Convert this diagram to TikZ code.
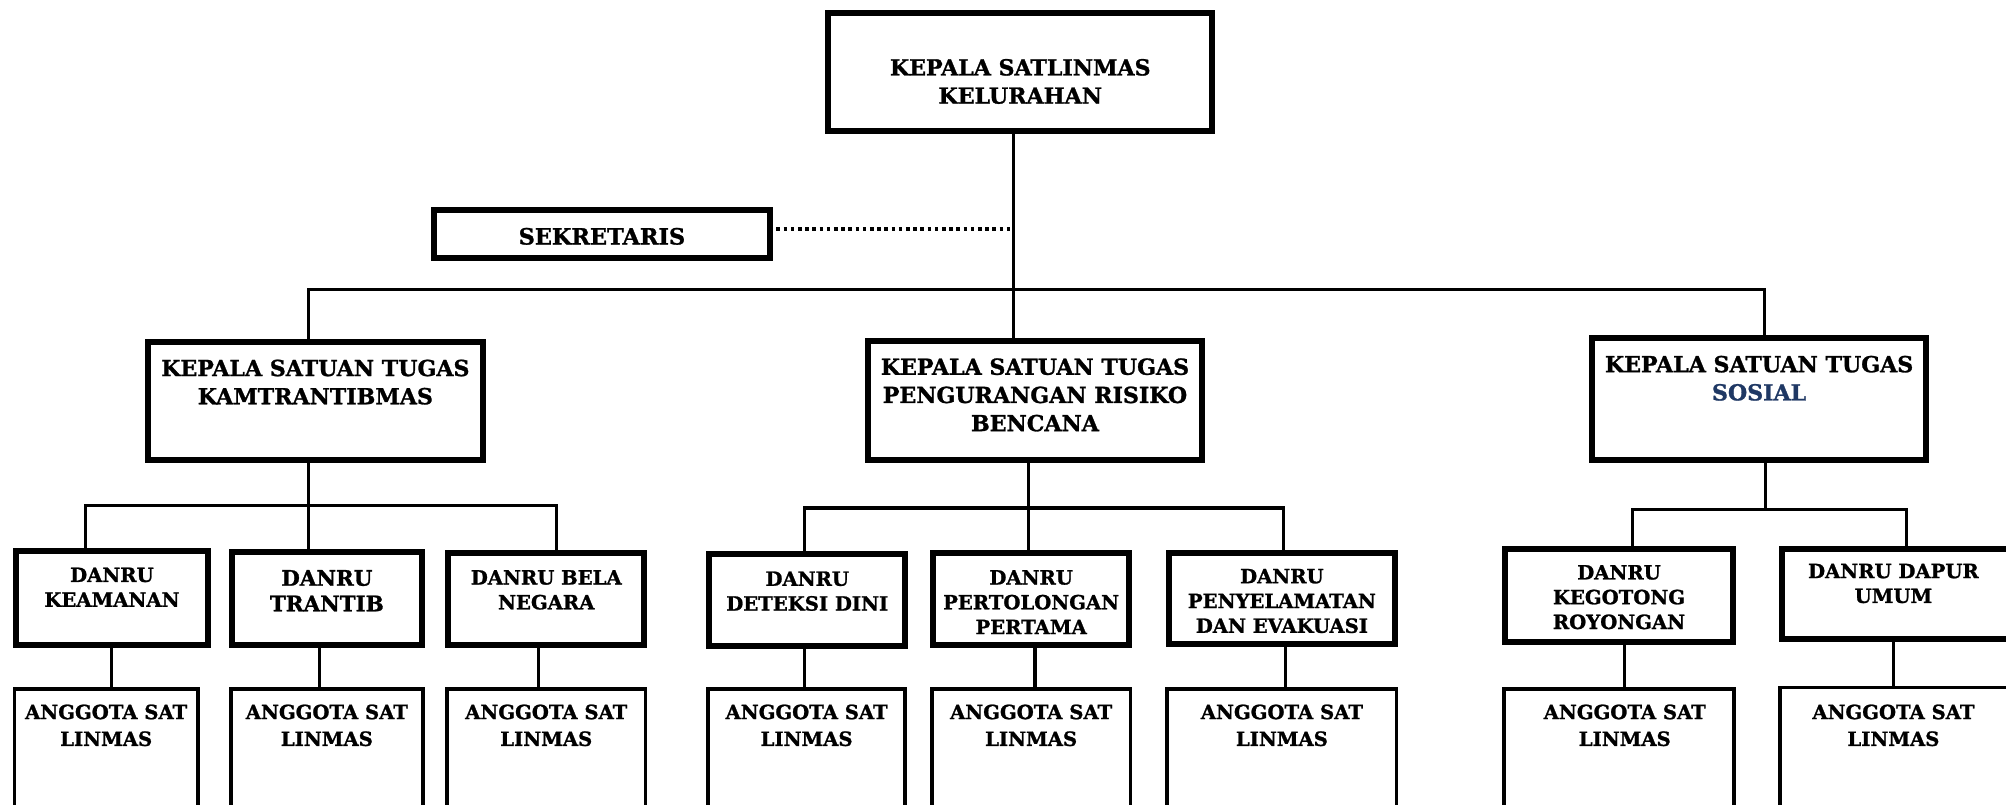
\documentclass[tikz,border=0pt]{standalone}
\usepackage{fontspec}
\setmainfont{DejaVu Serif}[BoldFeatures={FakeBold=1.2}]
\definecolor{navy}{RGB}{31,56,100}
\begin{document}
\begin{tikzpicture}[x=0.63965pt,y=-0.63965pt,
  sz/.style 2 args={minimum width={#1*0.63965pt},minimum height={#2*0.63965pt}},
  hbox/.style={draw,line width=3pt,inner sep=0pt},
  mbox/.style={draw,line width=1.8pt,inner sep=0pt},
  conn/.style={line width=1.6pt},
  dotconn/.style={line width=1.6pt,dash pattern=on 1.8pt off 1.8pt},
  tx/.style={anchor=north,align=center,inner sep=0pt,font=\bfseries\fontsize{11.05}{14.1}\selectfont},
  ts/.style={anchor=north,align=center,inner sep=0pt,font=\bfseries\fontsize{9.8}{12.4}\selectfont},
  ta/.style={anchor=north,align=center,inner sep=0pt,font=\bfseries\fontsize{9.8}{13.4}\selectfont}]
\clip (0,0) rectangle (1568,629);
\fill[white] (0,0) rectangle (1568,629);

% level 0 / 1 boxes
\node[hbox,sz={300}{92}] (top) at (797.5,56.5) {};
\node[hbox,sz={262}{37.5}] (sek) at (470.5,183) {};
\node[hbox,sz={262}{92}] (k1) at (246.5,313.5) {};
\node[hbox,sz={261}{93}] (k2) at (809,313) {};
\node[hbox,sz={261}{95}] (k3) at (1375,312) {};

% danru boxes
\node[hbox,sz={150}{74}] (d1) at (87.5,467.5) {};
\node[hbox,sz={148}{73}] (d2) at (255.5,468) {};
\node[hbox,sz={153}{72}] (d3) at (427,468.5) {};
\node[hbox,sz={153}{71.5}] (d4) at (631,469) {};
\node[hbox,sz={153}{72}] (d5) at (806,468.5) {};
\node[hbox,sz={177}{71.5}] (d6) at (1002,468) {};
\node[hbox,sz={178}{72.5}] (d7) at (1265.5,465.5) {};
\node[hbox,sz={180}{70.5}] (d8) at (1482.5,464.5) {};

% anggota boxes
\node[mbox,sz={143.2}{161.6}] (a1) at (83,619.2) {};
\node[mbox,sz={150.2}{161.6}] (a2) at (255.5,619.2) {};
\node[mbox,sz={155.2}{161.6}] (a3) at (427,619.2) {};
\node[mbox,sz={154.2}{161.6}] (a4) at (630.5,619.2) {};
\node[mbox,sz={155.2}{161.6}] (a5) at (806,619.2) {};
\node[mbox,sz={179.2}{161.6}] (a6) at (1002,619.2) {};
\node[mbox,sz={180.2}{161.6}] (a7) at (1265.5,619.2) {};
\node[mbox,sz={187.2}{163.6}] (a8) at (1485,619.2) {};

% texts
\node[tx] (ttop) at (797.5,45.8) {KEPALA SATLINMAS\\KELURAHAN};
\node[tx,font=\bfseries\fontsize{11.2}{14}\selectfont] (tsek) at (470.5,177.8) {SEKRETARIS};
\node[tx] (tk1) at (246.5,280.8) {KEPALA SATUAN TUGAS\\KAMTRANTIBMAS};
\node[tx] (tk2) at (809,279.8) {KEPALA SATUAN TUGAS\\PENGURANGAN RISIKO\\BENCANA};
\node[tx] (tk3) at (1375,277.8) {KEPALA SATUAN TUGAS\\\textcolor{navy}{SOSIAL}};

\node[ts] (td1) at (87.5,443.4) {DANRU\\KEAMANAN};
\node[ts,font=\bfseries\fontsize{10.7}{12.8}\selectfont] (td2) at (255.5,445.3) {DANRU\\TRANTIB};
\node[ts] (td3) at (427,445.4) {DANRU BELA\\NEGARA};
\node[ts] (td4) at (631,446.4) {DANRU\\DETEKSI DINI};
\node[ts] (td5) at (806,445.4) {DANRU\\PERTOLONGAN\\PERTAMA};
\node[ts] (td6) at (1002,444.4) {DANRU\\PENYELAMATAN\\DAN EVAKUASI};
\node[ts] (td7) at (1265.5,441.4) {DANRU\\KEGOTONG\\ROYONGAN};
\node[ts] (td8) at (1480,440.4) {DANRU DAPUR\\UMUM};

\node[ta] (ta1) at (83,550.4) {ANGGOTA SAT\\LINMAS};
\node[ta] (ta2) at (255.5,550.4) {ANGGOTA SAT\\LINMAS};
\node[ta] (ta3) at (427,550.4) {ANGGOTA SAT\\LINMAS};
\node[ta] (ta4) at (630.5,550.4) {ANGGOTA SAT\\LINMAS};
\node[ta] (ta5) at (806,550.4) {ANGGOTA SAT\\LINMAS};
\node[ta] (ta6) at (1002,550.4) {ANGGOTA SAT\\LINMAS};
\node[ta] (ta7) at (1270,550.4) {ANGGOTA SAT\\LINMAS};
\node[ta] (ta8) at (1480,550.4) {ANGGOTA SAT\\LINMAS};

% main connectors
\coordinate (j0) at (792,226);
\coordinate (b1) at (241,226);
\coordinate (b3) at (1379,226);
\coordinate (dt) at (790,179);
\draw[conn] (j0 |- top.south) -- (j0 |- k2.north);
\draw[conn] (b1 |- k1.north) -- (b1) -- (b3) -- (b3 |- k3.north);
\draw[dotconn] (sek.east |- dt) ++(3,0) -- (dt);

% subtree 1
\coordinate (s1) at (241,395);
\coordinate (s1l) at (67,395);
\coordinate (s1r) at (435,395);
\draw[conn] (s1 |- k1.south) -- (s1) -- (s1 |- d2.north);
\draw[conn] (s1l |- d1.north) -- (s1l) -- (s1r) -- (s1r |- d3.north);

% subtree 2
\coordinate (s2) at (804,397);
\coordinate (s2l) at (629,397);
\coordinate (s2r) at (1003,397);
\draw[conn] (s2 |- k2.south) -- (s2) -- (s2 |- d5.north);
\draw[conn] (s2l |- d4.north) -- (s2l) -- (s2r) -- (s2r |- d6.north);

% subtree 3
\coordinate (s3) at (1380,398);
\coordinate (s3l) at (1276,398);
\coordinate (s3r) at (1490,398);
\draw[conn] (s3 |- k3.south) -- (s3);
\draw[conn] (s3l |- d7.north) -- (s3l) -- (s3r) -- (s3r |- d8.north);

% danru to anggota
\coordinate (v1) at (87,520);
\coordinate (v2) at (250,520);
\coordinate (v3) at (421,520);
\coordinate (v4) at (629,520);
\coordinate (v5) at (809,520);
\coordinate (v6) at (1005,520);
\coordinate (v7) at (1270,520);
\coordinate (v8) at (1480,520);
\draw[conn] (v1 |- d1.south) -- (v1 |- a1.north);
\draw[conn] (v2 |- d2.south) -- (v2 |- a2.north);
\draw[conn] (v3 |- d3.south) -- (v3 |- a3.north);
\draw[conn] (v4 |- d4.south) -- (v4 |- a4.north);
\draw[conn] (v5 |- d5.south) -- (v5 |- a5.north);
\draw[conn] (v6 |- d6.south) -- (v6 |- a6.north);
\draw[conn] (v7 |- d7.south) -- (v7 |- a7.north);
\draw[conn] (v8 |- d8.south) -- (v8 |- a8.north);
\end{tikzpicture}
\end{document}
